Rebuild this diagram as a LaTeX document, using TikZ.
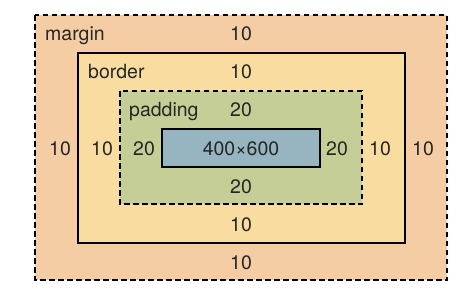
\documentclass[tikz,border=0pt]{standalone}
\usepackage{fontspec}
\setmainfont{TeX Gyre Heros}
\definecolor{marginc}{HTML}{F4CDA5}
\definecolor{borderc}{HTML}{F9DDA0}
\definecolor{paddingc}{HTML}{C5CE96}
\definecolor{contentc}{HTML}{96B5C0}
\definecolor{txt}{HTML}{262626}
\begin{document}
\begin{tikzpicture}[x=1pt,y=-1pt,
  boxline/.style={line width=2.2pt,draw=black},
  dashbox/.style={boxline,dash pattern=on 5.5pt off 3.5pt},
  lbl/.style={font=\fontsize{19.5}{22}\selectfont,text=txt,inner sep=0pt,anchor=base},
  lbll/.style={lbl,anchor=base west}]
\useasboundingbox (0,0) rectangle (476,306);
\fill[white] (0,0) rectangle (476,306);
\draw[dashbox,fill=marginc] (35,15) rectangle (447,280);
\draw[boxline,fill=borderc] (78,53) rectangle (405,243);
\draw[dashbox,fill=paddingc] (120,91) rectangle (362,204);
\draw[boxline,fill=contentc] (162,129) rectangle (320,167);
\node[lbll] (mname) at (45,40) {margin};
\node[lbll] (bname) at (88,78) {border};
\node[lbll] (pname) at (129,116) {padding};
\node[lbl] (mt) at (241,40) {10};
\node[lbl] (bt) at (241,78) {10};
\node[lbl] (pt) at (241,116) {20};
\node[lbl] (ml) at (60,155) {10};
\node[lbl] (bl) at (102,155) {10};
\node[lbl] (pl) at (144,155) {20};
\node[lbl] (content) at (241,155) {400×600};
\node[lbl] (pr) at (337,155) {20};
\node[lbl] (br) at (380,155) {10};
\node[lbl] (mr) at (423,155) {10};
\node[lbl] (pb) at (241,193) {20};
\node[lbl] (bb) at (241,231) {10};
\node[lbl] (mb) at (241,269) {10};
\end{tikzpicture}
\end{document}
